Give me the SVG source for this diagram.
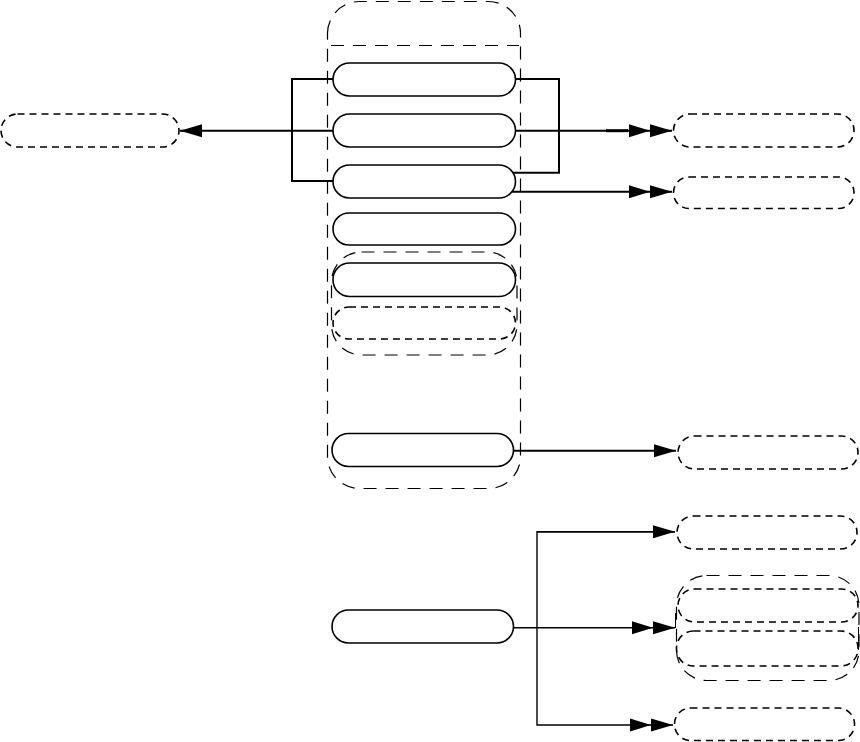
<svg xmlns="http://www.w3.org/2000/svg" width="860" height="742" viewBox="0 0 860 742">
<style>
.bg{fill:#fff}
.solid{fill:#fff;stroke:#000;stroke-width:1.6}
.dash{fill:none;stroke:#000;stroke-width:1.6;stroke-dasharray:7 5}
.grp{fill:none;stroke:#000;stroke-width:1.2;stroke-dasharray:13 9}
.c{fill:none;stroke:#000;stroke-width:2}
.c2{fill:none;stroke:#000;stroke-width:1.4}
</style>
<defs>
<marker id="a1" markerWidth="24" markerHeight="14" refX="22" refY="7" orient="auto" markerUnits="userSpaceOnUse"><path d="M0,0.5 L22,7 L0,13.5 Z" fill="#000"/></marker>
<marker id="a2" markerWidth="44" markerHeight="14" refX="43" refY="7" orient="auto" markerUnits="userSpaceOnUse"><path d="M0,0.5 L21,7 L0,13.5 Z M21,0.5 L43,7 L21,13.5 Z" fill="#000"/></marker>
</defs>
<rect class="bg" x="0" y="0" width="860" height="742"/>

<g id="container">
<path class="grp" d="M327.5,33 A32,32 0 0 1 359.5,1.5 H488.5 A32,32 0 0 1 520.5,33 V456 A32,32 0 0 1 488.5,488.5 H359.5 A32,32 0 0 1 327.5,456 Z"/>
<line class="grp" x1="331" y1="45.5" x2="519" y2="45.5"/>
</g>

<g id="connectors">
<path class="c" d="M333,79 H292 V181 H333"/>
<path class="c" d="M333,130.7 H180" marker-end="url(#a1)"/>
<path class="c" d="M515,79 H559 V172.7 H513"/>
<path class="c" d="M515,130.7 H672" marker-end="url(#a2)"/>
<line x1="606" y1="130.7" x2="628" y2="130.7" stroke="#000" stroke-width="3"/>
<path class="c" d="M512,191.7 H672" marker-end="url(#a2)"/>
<path class="c" d="M513,450.7 H676" marker-end="url(#a1)"/>
<path class="c2" d="M513,627.7 H675" marker-end="url(#a2)"/>
<path class="c2" d="M675,531.7 H537 V725 H673" marker-end="url(#a2)"/>
<line class="c2" x1="537" y1="531.7" x2="675" y2="531.7" marker-end="url(#a1)"/>
<line x1="675.5" y1="613" x2="675.5" y2="628" stroke="#000" stroke-width="1"/>
<line x1="858.5" y1="627" x2="858.5" y2="650" stroke="#000" stroke-width="1"/>
</g>

<g id="n1"><rect class="solid" x="333" y="63" width="182.5" height="33" rx="16.5"/></g>
<g id="n2"><rect class="solid" x="333" y="114" width="182.5" height="33" rx="16.5"/></g>
<g id="n3"><rect class="solid" x="333" y="165" width="182.5" height="33" rx="16.5"/></g>
<g id="n4"><rect class="solid" x="333" y="213" width="182.5" height="32" rx="16"/></g>
<g id="g56"><rect class="grp" x="331.5" y="252" width="185.5" height="103" rx="30"/></g>
<g id="n5"><rect class="solid" x="333" y="263" width="182.5" height="33.5" rx="16.5"/></g>
<g id="n6"><rect class="dash" x="333" y="307" width="182.5" height="32" rx="16"/></g>
<g id="n7"><rect class="solid" x="332" y="433.5" width="181.5" height="33" rx="16.5"/></g>
<g id="n8"><rect class="solid" x="332" y="610" width="181.5" height="33" rx="16.5"/></g>

<g id="t_left"><rect class="dash" x="1" y="114" width="178" height="33" rx="16.5"/></g>
<g id="t_r1"><rect class="dash" x="673.5" y="114" width="180.5" height="33" rx="16.5"/></g>
<g id="t_r2"><rect class="dash" x="673.5" y="177" width="180.5" height="31.5" rx="15.5"/></g>
<g id="t_r3"><rect class="dash" x="678" y="436" width="180" height="33" rx="16.5"/></g>
<g id="t_r4"><rect class="dash" x="677" y="516" width="180" height="33" rx="16.5"/></g>
<g id="t_grp"><rect class="grp" x="676.5" y="575.5" width="182.5" height="105" rx="30"/></g>
<g id="t_r5"><rect class="dash" x="678" y="589" width="180" height="33" rx="16.5"/></g>
<g id="t_r6"><rect class="dash" x="676.5" y="631" width="181.5" height="35" rx="17"/></g>
<g id="t_r7"><rect class="dash" x="674.5" y="708" width="180" height="32.5" rx="16"/></g>
</svg>
